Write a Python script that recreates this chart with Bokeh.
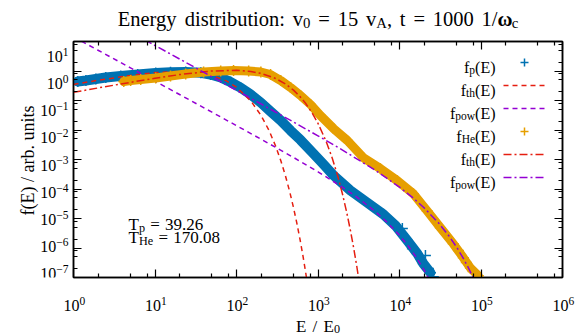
import math
from bokeh.plotting import figure
from bokeh.layouts import column, row
from bokeh.models import (Range1d, FixedTicker, LogAxis, CustomJSTickFormatter,
                          Label, Legend, LegendItem)
from bokeh.embed import file_html
from bokeh.resources import INLINE

# ---------------- data ----------------
# proton distribution f_p(E)
E_p = [1.13, 1.42, 1.88, 2.49, 3.80, 6.14, 10.2, 15.5, 23.8, 36.5, 48, 64, 85, 112,
       149, 199, 262, 349, 461, 610, 880, 1170, 1550, 2500, 4000, 6350, 8900, 12500,
       16600, 19600, 24000]
f_p = [0.44, 0.476, 0.537, 0.602, 0.676, 0.76, 0.85, 0.90, 0.93, 0.87, 0.76, 0.60,
       0.42, 0.275, 0.16, 0.085, 0.0425, 0.021, 0.0096, 4.6e-3, 1.58e-3, 6.8e-4,
       2.9e-4, 8.9e-5, 3.47e-5, 1.38e-5, 5.8e-6, 1.78e-6, 6.4e-7, 2.95e-7, 1.45e-7]
E_p_scatter = [10840, 14400, 18100, 20800, 22600, 26000]
f_p_scatter = [4.6e-6, 9.5e-7, 4.4e-7, 5.6e-7, 2.0e-7, 1.07e-7]

# helium distribution f_He(E)
E_he = [4.14, 5.03, 6.68, 10.2, 15.5, 23.8, 39.5, 64, 92, 141, 199, 262, 349, 461,
        610, 809, 1070, 1550, 2290, 3610, 5830, 9420, 14800, 21900, 31700, 45700,
        60700, 74100, 92700]
f_he = [0.44, 0.476, 0.515, 0.58, 0.676, 0.79, 0.925, 1.0, 1.04, 1.0, 0.925, 0.76,
        0.476, 0.275, 0.148, 0.073, 0.031, 0.0112, 4.4e-3, 1.15e-3, 4.9e-4, 1.9e-4,
        6.9e-5, 1.8e-5, 4.9e-6, 1.39e-6, 4.7e-7, 2.1e-7, 1.15e-7]
E_he_scatter = [52800, 66000, 80000]
f_he_scatter = [8.3e-7, 3.2e-7, 1.6e-7]

# thermal fit, protons (T_p = 39.26)
E_th_p = [1, 2, 5, 10, 20, 30, 50, 75, 100, 150, 200, 250, 300, 350, 400, 450, 500,
          550, 600, 650, 700, 750, 800]
f_th_p = [0.351, 0.484, 0.709, 0.882, 0.967, 0.918, 0.712, 0.461, 0.282, 0.0966,
          0.0312, 9.77e-3, 3.0e-3, 9.06e-4, 2.71e-4, 8.04e-5, 2.37e-5, 6.96e-6,
          2.03e-6, 5.92e-7, 1.72e-7, 4.99e-8, 1.44e-8]
# power-law fit, protons
E_pow_p = [1, 2, 5, 10, 20, 50, 100, 200, 500, 1000, 2000, 3000, 5000, 7000, 10000,
           13000, 16000, 20000, 25000]
f_pow_p = [14.3, 5.06, 1.279, 0.452, 0.160, 0.0401, 0.01406, 4.89e-3, 1.177e-3,
           3.83e-4, 1.146e-4, 5.28e-5, 1.758e-5, 7.60e-6, 2.70e-6, 1.106e-6, 4.91e-7,
           1.80e-7, 5.6e-8]
# thermal fit, helium (T_He = 170.08)
E_th_he = [1, 2, 5, 10, 20, 50, 100, 150, 200, 300, 400, 500, 600, 700, 850, 1000,
           1250, 1500, 1750, 2000, 2250, 2500, 2750, 3000, 3250, 3500]
f_th_he = [0.189, 0.266, 0.413, 0.567, 0.755, 1.001, 1.055, 0.963, 0.829, 0.564,
           0.362, 0.225, 0.1367, 0.0820, 0.0374, 0.0168, 4.32e-3, 1.087e-3, 2.70e-4,
           6.64e-5, 1.62e-5, 3.92e-6, 9.47e-7, 2.27e-7, 5.44e-8, 1.3e-8]
# power-law fit, helium
E_pow_he = [5, 8, 10, 20, 50, 100, 200, 500, 1000, 2000, 5000, 10000, 15000, 20000,
            30000, 40000, 50000, 60000, 70000, 80000, 90000]
f_pow_he = [21.0, 10.29, 7.33, 2.553, 0.635, 0.2201, 0.0763, 0.01865, 6.32e-3,
            2.085e-3, 4.39e-4, 1.158e-4, 4.74e-5, 2.316e-5, 7.18e-6, 2.66e-6, 1.09e-6,
            4.73e-7, 2.14e-7, 1.0e-7, 4.8e-8]

X_EXP = [0, 1, 2, 3, 4, 5, 6]
Y_EXP = [1, 0, -1, -2, -3, -4, -5, -6, -7]
MINOR_MANT = [2, 5, 8]
LEGEND_SUBS = ["p", "th", "pow", "He", "th", "pow"]
T_P_TEXT = "39.26"
T_HE_TEXT = "170.08"

# ---------------- layout (page pixels) ----------------
W, H = 583, 336
FL, FR, FT, FB = 73, 562, 41, 277          # plot frame on the page
BL, BT, BB = 4, 10, 10                     # main figure borders (left/top/bottom)
TOP_H = FT - BT                            # title strip height
LEFT_W = FL - BL                           # left text strip width
MAIN_W = W - LEFT_W
MAIN_H = BT + (FB - FT) + BB
BOT_H = H - TOP_H - MAIN_H
XD0, XD1 = 0, 6
YD0, YD1 = -7, 1
FONT = "Liberation Serif"
BLUE, ORANGE, RED, PURPLE = "#0072b2", "#e69f00", "#e51e10", "#9400d3"


def D(X, Y):
    """page pixel -> data coordinates of the main plot"""
    return (10 ** (XD0 + (X - FL) / (FR - FL) * (XD1 - XD0)),
            10 ** (YD0 + (FB - Y) / (FB - FT) * (YD1 - YD0)))


canvases = {}


def make_canvas(name, w, h, ox, oy):
    c = figure(width=w, height=h, x_range=Range1d(0, w), y_range=Range1d(h, 0),
               output_backend="svg", toolbar_location=None,
               x_axis_location=None, y_axis_location=None, min_border=0)
    c.grid.visible = False
    c.outline_line_color = None
    c.title.visible = False
    c.border_fill_color = "white"
    c.background_fill_color = "white"
    canvases[name] = (c, ox, oy)
    return c


top = make_canvas("top", W, TOP_H, 0, 0)
left = make_canvas("left", LEFT_W, MAIN_H, 0, TOP_H)
bottom = make_canvas("bottom", W, BOT_H, 0, TOP_H + MAIN_H)

p = figure(width=MAIN_W, height=MAIN_H, x_axis_type="log", y_axis_type="log",
           x_range=Range1d(10 ** XD0, 10 ** XD1), y_range=Range1d(10 ** YD0, 10 ** YD1),
           output_backend="svg", toolbar_location=None,
           min_border_left=BL, min_border_right=W - FR,
           min_border_top=BT, min_border_bottom=BB)
p.title.visible = False
p.grid.visible = False
p.outline_line_color = "black"
p.outline_line_width = 1.5
p.background_fill_color = "white"
p.border_fill_color = "white"

xt = FixedTicker(ticks=[10 ** k for k in X_EXP],
                 minor_ticks=[m * 10 ** k for k in X_EXP[:-1] for m in MINOR_MANT])
yt = FixedTicker(ticks=[10.0 ** k for k in Y_EXP],
                 minor_ticks=[m * 10.0 ** k for k in Y_EXP[1:] for m in MINOR_MANT])
blank = CustomJSTickFormatter(code="return ''")
p.add_layout(LogAxis(), "above")
p.add_layout(LogAxis(), "right")
for ax in p.xaxis:
    ax.ticker = xt
for ax in p.yaxis:
    ax.ticker = yt
for ax in p.axis:
    ax.formatter = blank
    ax.major_label_text_font_size = "1px"
    ax.major_tick_in = 8
    ax.major_tick_out = 0
    ax.minor_tick_in = 4
    ax.minor_tick_out = 0
    ax.axis_line_color = "black"
    ax.axis_line_width = 1.5
    ax.major_tick_line_color = "black"
    ax.minor_tick_line_color = "black"
    ax.major_tick_line_width = 1.2
    ax.minor_tick_line_width = 1.2
    ax.major_label_standoff = 0

# ---------------- series ----------------
p.line(E_p, f_p, color=BLUE, line_width=10, line_cap="round", line_join="round")
r_p = p.scatter(E_p + E_p_scatter, f_p + f_p_scatter, marker="cross", size=11,
                line_color=BLUE, line_width=1.5)
r_thp = p.line(E_th_p, f_th_p, color=RED, line_width=1.5, line_dash="5 4")
r_powp = p.line(E_pow_p, f_pow_p, color=PURPLE, line_width=1.5, line_dash="5 4")
p.line(E_he, f_he, color=ORANGE, line_width=9, line_cap="round", line_join="round")
r_he = p.scatter(E_he + E_he_scatter, f_he + f_he_scatter, marker="cross", size=11,
                 line_color=ORANGE, line_width=1.5)
r_thhe = p.line(E_th_he, f_th_he, color=RED, line_width=1.5, line_dash="8 3 2 3")
r_powhe = p.line(E_pow_he, f_pow_he, color=PURPLE, line_width=1.5, line_dash="8 3 2 3")

# legend samples (labels drawn separately, with subscripts)
ROW0, ROWH, ROWGAP = 52, 20, 3
legend = Legend(items=[LegendItem(label=" ", renderers=[r])
                       for r in [r_p, r_thp, r_powp, r_he, r_thhe, r_powhe]],
                location=(503 - FL, FB - (ROW0 + 6 * ROWH + 5 * ROWGAP)),
                orientation="vertical", glyph_width=42, glyph_height=ROWH,
                label_height=ROWH, label_width=0, label_standoff=0, spacing=ROWGAP,
                padding=0, margin=0, border_line_alpha=0, background_fill_alpha=0,
                label_text_font_size="1px", label_text_alpha=0)
p.add_layout(legend)

# ---------------- text helper ----------------
TW = {' ': 250, '(': 333, ')': 333, '/': 278, '.': 250, ',': 250, ':': 278, '=': 564,
      '\u2212': 564, '-': 333, 'A': 722, 'E': 611, 'T': 611, 'H': 722, 'a': 444,
      'b': 500, 'c': 444, 'd': 500, 'e': 444, 'f': 333, 'g': 500, 'h': 500, 'i': 278,
      'n': 500, 'o': 500, 'p': 500, 'r': 333, 's': 389, 't': 278, 'u': 500, 'v': 500,
      'w': 722, 'y': 500, '\u03c9': 690}
for ch in "0123456789":
    TW[ch] = 500


def tw(s, size):
    return sum(TW.get(ch, 500) for ch in s) * size / 1000.0


def place(target, text, X, Y, size, bold=False, angle=0.0, align="left"):
    """put one text at page pixel (X, Y) (baseline) on a text strip or the plot"""
    if target == "main":
        dx, dy = D(X, Y)
        fig = p
    else:
        fig, ox, oy = canvases[target]
        dx, dy = X - ox, Y - oy
    fig.add_layout(Label(x=dx, y=dy, text=text, text_font=FONT,
                         text_font_size=f"{size:.1f}px",
                         text_font_style="bold" if bold else "normal",
                         text_color="black", text_align=align,
                         text_baseline="alphabetic", angle=angle))


def runs(target, tokens, X, Y, size, align="left", gap=0.0):
    pieces = []
    x = 0.0
    for text, kind in tokens:
        s = size * (0.72 if kind in ("sub", "sup") else 1.0)
        dy = {"sub": 0.18 * size, "sup": -0.31 * size}.get(kind, 0.0)
        words = text.split(" ")
        for i, wd in enumerate(words):
            if i > 0:
                x += tw(" ", s) + gap
            if wd:
                pieces.append((wd, x, dy, s, kind))
                x += tw(wd, s)
    total = x
    x0 = X - total if align == "right" else (X - total / 2 if align == "center" else X)
    for text, xx, dy, s, kind in pieces:
        place(target, text, x0 + xx, Y + dy, s, bold=(kind == "b"))


# title
runs("top", [("Energy distribution: v", "n"), ("0", "sub"), (" = 15 v", "n"),
             ("A", "sub"), (", t = 1000 1/", "n"), ("\u03c9", "b"), ("c", "sub")],
     317.5, 18.5, 20.5, align="center", gap=2.7)

# tick labels
for k in X_EXP:
    xpix = FL + (k - XD0) / (XD1 - XD0) * (FR - FL)
    runs("bottom", [("10", "n"), (str(k), "sup")], xpix + 1, 305, 16, align="center")
for k in Y_EXP:
    ypix = FB - (k - YD0) / (YD1 - YD0) * (FB - FT)
    lab = str(k).replace("-", "\u2212")
    runs("left", [("10", "n"), (lab, "sup")], 68, ypix + 6.0, 16, align="right")

# axis labels
runs("bottom", [("E / E", "n"), ("0", "sub")], 317.5, 325.5, 17, align="center", gap=2.0)
place("left", "f(E) / arb. units", 27, 160, 18, angle=math.pi / 2, align="center")

# legend labels
for i, sub in enumerate(LEGEND_SUBS):
    yrow = ROW0 + ROWH / 2 + i * (ROWH + ROWGAP)
    runs("main", [("f", "n"), (sub, "sub"), ("(E)", "n")], 495, yrow + 5, 16,
         align="right")

# temperatures
runs("main", [("T", "n"), ("p", "sub"), (" = " + T_P_TEXT, "n")], 128, 224, 17, gap=1.0)
runs("main", [("T", "n"), ("He", "sub"), (" = " + T_HE_TEXT, "n")], 128, 237, 17, gap=1.0)

layout = column(top, row(left, p, spacing=0), bottom, spacing=0)
open("out.html", "w").write(file_html(layout, INLINE))
